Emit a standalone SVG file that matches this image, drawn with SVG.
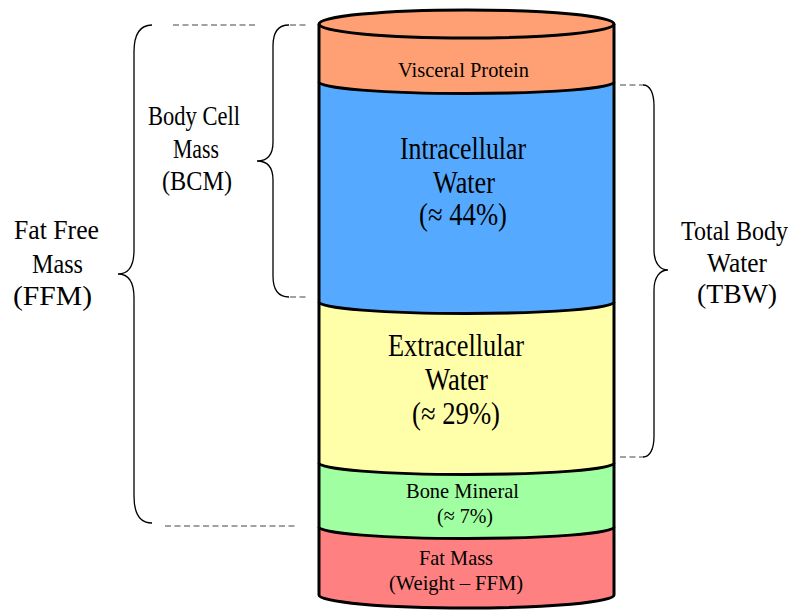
<svg xmlns="http://www.w3.org/2000/svg" width="811" height="610" viewBox="0 0 811 610">
<style>
.t{font-family:"Liberation Serif","Times New Roman",serif;fill:#000}
.big{font-size:31px}
.side{font-size:27px}
.small{font-size:22px}
.edge{fill:none;stroke:#000;stroke-width:3}
.brace{fill:none;stroke:#000;stroke-width:1.3}
.dash{fill:none;stroke:#444;stroke-width:1.2;stroke-dasharray:6 3.5}
</style>
<rect width="811" height="610" fill="#fff"/>
<g id="fat-mass">
<path d="M319,527 L319,595 A147.5,13 0 0 0 614,595 L614,527 A147.5,11.5 0 0 1 319,527 Z" fill="#FF8080"/>
<text class="t small" x="419" y="565" textLength="74" lengthAdjust="spacingAndGlyphs">Fat Mass</text>
<text class="t small" x="389" y="590" textLength="134" lengthAdjust="spacingAndGlyphs">(Weight – FFM)</text>
</g>
<g id="bone-mineral">
<path d="M319,463 L319,527 A147.5,11.5 0 0 0 614,527 L614,463 A147.5,11.5 0 0 1 319,463 Z" fill="#A0FFA0"/>
<text class="t small" x="406" y="498" textLength="113" lengthAdjust="spacingAndGlyphs">Bone Mineral</text>
<text class="t small" x="437" y="523" textLength="56" lengthAdjust="spacingAndGlyphs">(≈ 7%)</text>
</g>
<g id="extracellular-water">
<path d="M319,302 L319,463 A147.5,11.5 0 0 0 614,463 L614,302 A147.5,11.5 0 0 1 319,302 Z" fill="#FFFFAA"/>
<text class="t big" x="388" y="356" textLength="136" lengthAdjust="spacingAndGlyphs">Extracellular</text>
<text class="t big" x="425" y="390" textLength="63" lengthAdjust="spacingAndGlyphs">Water</text>
<text class="t big" x="412" y="424" textLength="88" lengthAdjust="spacingAndGlyphs">(≈ 29%)</text>
</g>
<g id="intracellular-water">
<path d="M319,82 L319,302 A147.5,11.5 0 0 0 614,302 L614,82 A147.5,11.5 0 0 1 319,82 Z" fill="#55AAFF"/>
<text class="t big" x="400" y="159" textLength="126" lengthAdjust="spacingAndGlyphs">Intracellular</text>
<text class="t big" x="433" y="193" textLength="62" lengthAdjust="spacingAndGlyphs">Water</text>
<text class="t big" x="419" y="225" textLength="88" lengthAdjust="spacingAndGlyphs">(≈ 44%)</text>
</g>
<g id="visceral-protein">
<path d="M319,24 L319,82 A147.5,11.5 0 0 0 614,82 L614,24 A147.5,14 0 0 0 319,24 Z" fill="#FFA074"/>
<text class="t small" x="398" y="77" textLength="131" lengthAdjust="spacingAndGlyphs">Visceral Protein</text>
</g>
<g id="cylinder-outline">
<ellipse class="edge" cx="466.5" cy="24" rx="147.5" ry="14"/>
<path class="edge" d="M319,24 L319,595 A147.5,13 0 0 0 614,595 L614,24"/>
<path class="edge" d="M319,82 A147.5,11.5 0 0 0 614,82"/>
<path class="edge" d="M319,302 A147.5,11.5 0 0 0 614,302"/>
<path class="edge" d="M319,463 A147.5,11.5 0 0 0 614,463"/>
<path class="edge" d="M319,527 A147.5,11.5 0 0 0 614,527"/>
</g>
<g id="connectors">
<path class="dash" d="M173,25 L255,25"/>
<path class="dash" d="M165,526 L297,526"/>
<path class="dash" d="M290,25 L306,25"/>
<path class="dash" d="M290,297 L306,297"/>
<path class="dash" d="M620,85 L643,85"/>
<path class="dash" d="M620,457 L643,457"/>
<path class="brace" d="M152,25 C140,25 134,35 134,52 L134,250 C134,266 128,274 118,274 C128,274 134,282 134,298 L134,496 C134,513 140,523 152,523"/>
<path class="brace" d="M289,25 C278,25 273,33 273,46 L273,142 C273,155 267,161 257,161 C267,161 273,167 273,180 L273,276 C273,289 278,297 289,297"/>
<path class="brace" d="M643,85 C650,85 654,93 654,106 L654,250 C654,263 660,270 668,270 C660,270 654,277 654,290 L654,436 C654,449 650,457 643,457"/>
</g>
<g id="fat-free-mass-label">
<text class="t side" x="14" y="239" textLength="85" lengthAdjust="spacingAndGlyphs">Fat Free</text>
<text class="t side" x="32" y="273" textLength="51" lengthAdjust="spacingAndGlyphs">Mass</text>
<text class="t side" x="13" y="305" textLength="79" lengthAdjust="spacingAndGlyphs">(FFM)</text>
</g>
<g id="body-cell-mass-label">
<text class="t side" x="148" y="125" textLength="92" lengthAdjust="spacingAndGlyphs">Body Cell</text>
<text class="t side" x="173" y="158" textLength="46" lengthAdjust="spacingAndGlyphs">Mass</text>
<text class="t side" x="162" y="190" textLength="70" lengthAdjust="spacingAndGlyphs">(BCM)</text>
</g>
<g id="total-body-water-label">
<text class="t side" x="681" y="240" textLength="107" lengthAdjust="spacingAndGlyphs">Total Body</text>
<text class="t side" x="707" y="272" textLength="60" lengthAdjust="spacingAndGlyphs">Water</text>
<text class="t side" x="697" y="303" textLength="80" lengthAdjust="spacingAndGlyphs">(TBW)</text>
</g>
</svg>
